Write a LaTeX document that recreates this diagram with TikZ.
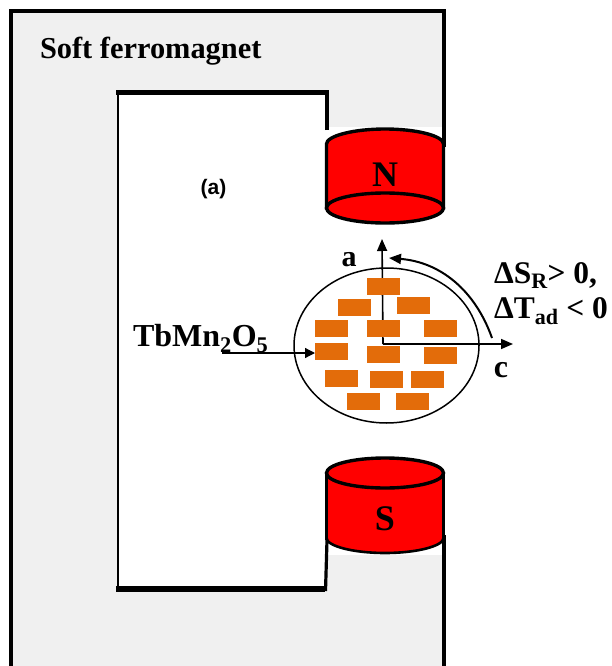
\documentclass[tikz,border=0pt]{standalone}
\usepackage{fontspec}
\setmainfont{Liberation Serif}
\newfontfamily\labsans{Liberation Sans}
\usetikzlibrary{arrows.meta,shapes.geometric}
\definecolor{softgray}{HTML}{F0F0F0}
\definecolor{brick}{HTML}{E36C0A}
\tikzset{
  yoke/.style={line width=3.2pt,line cap=butt,line join=miter},
  magnet/.style={fill=red,draw=black,line width=3.4pt},
  brickbox/.style={fill=brick,draw=none,minimum width=33pt,minimum height=17pt,inner sep=0pt,outer sep=0pt},
  axisline/.style={line width=1.6pt,-{Triangle[length=12pt,width=10pt]}},
  boldlabel/.style={inner sep=0pt,outer sep=0pt,anchor=base},
}
\newcommand{\bsize}[1]{\fontsize{#1}{#1}\selectfont\bfseries}
\begin{document}
\begin{tikzpicture}[x=1pt,y=-1pt]
\useasboundingbox (0,0) rectangle (612,666);
\begin{scope}
\clip (0,0) rectangle (612,666);
% soft ferromagnet yoke
\fill[softgray] (11,11) -- (444,11) -- (444,127) -- (327,127) -- (327,92) -- (118,92) -- (118,588) -- (326,588) -- (326,555) -- (444,555) -- (444,666) -- (11,666) -- cycle;
\draw[yoke] (11,670) -- (11,11) -- (444,11) -- (444,147);
\draw[line width=4.5pt] (327,130) -- (327,92.5) -- (116,92.5);
\draw[line width=2.3pt] (118,92) -- (118,588);
\draw[line width=6pt] (116,589) -- (325,589);
\draw[yoke] (325.5,591) -- (327,540);
\draw[line width=4pt] (444,535) -- (444,670);
% N pole
\coordinate (nTL) at (326.5,144);
\coordinate (nBL) at (326.5,208);
\coordinate (nBR) at (443.5,208);
\coordinate (nTR) at (443.5,144);
\draw[magnet] (nTL) .. controls (326.5,136) and (353,129) .. (385,129) .. controls (417,129) and (443.5,136) .. (nTR) -- (nBR) -- (nBL) -- cycle;
\draw[magnet] (385,208) ellipse[x radius=58.5,y radius=15];
% S pole
\fill[red] (326.5,473) -- (326.5,538) .. controls (326.5,546) and (353,553) .. (385,553) .. controls (417,553) and (443.5,546) .. (443.5,538) -- (443.5,473) -- cycle;
\draw[line width=2.6pt] (326.5,538) .. controls (326.5,546) and (353,553) .. (385,553) .. controls (417,553) and (443.5,546) .. (443.5,538);
\draw[line width=3.4pt] (326.5,473) -- (326.5,540) (443.5,473) -- (443.5,540);
\draw[magnet] (385,473) ellipse[x radius=58.5,y radius=15];
\end{scope}
% crystal
\node[draw=black,line width=1.5pt,ellipse,minimum width=185pt,minimum height=155pt,inner sep=0pt] (crystal) at (386.5,345.5) {};
\coordinate (origin) at (383,344);
\coordinate (aTip) at (382,239);
\coordinate (cTip) at (513,344);
\coordinate (arcS) at (492,338);
\coordinate (arcE) at (389,258);
\coordinate (tbS) at (222,353);
\draw[axisline] (origin) -- (aTip);
\foreach \i/\cx/\cy in {b1/383/286.5,b2/354.5/307.5,b3/413.5/305,b4/331.5/328.5,b5/383/328.5,b6/440.5/328.5,b7/331.5/351.5,b8/383/354.5,b9/440.5/355.5,b10/341/378,b11/386.5/379,b12/427/379,b13/363/401.5,b14/412.5/401.5}
  \node[brickbox] (\i) at (\cx,\cy) {};
\draw[axisline] (origin) -- (cTip);
\draw[line width=2pt,-{Triangle[length=12pt,width=10pt]}] (arcS) .. controls (475,290) and (440,262) .. (arcE);
\draw[line width=1.2pt,-{Triangle[length=10pt,width=10pt]}] (tbS) -- (tbS -| b7.west);
% labels
\node[boldlabel,anchor=base west,font=\bsize{30.4}] (soft) at (40,59) {Soft ferromagnet};
\node[inner sep=0pt,font=\labsans\bsize{21}] (panel) at (213.5,189) {(a)};
\node[boldlabel,font=\bsize{36}] (nlab) at (385,186) {N};
\node[boldlabel,font=\bsize{36}] (slab) at (385,530) {S};
\node[boldlabel,font=\bsize{30}] (alab) at (349,266) {a};
\node[boldlabel,font=\bsize{32}] (clab) at (501,377) {c};
\node[boldlabel,anchor=base west,font=\bsize{32}] (tb) at (133,346) {TbMn\textsubscript{2}O\textsubscript{5}};
\node[boldlabel,anchor=base west,font=\bsize{31.5}] (ds) at (494,283) {ΔS\textsubscript{R}> 0,};
\node[boldlabel,anchor=base west,font=\bsize{31.5}] (dt) at (494,318) {ΔT\textsubscript{ad} < 0};
\end{tikzpicture}
\end{document}
